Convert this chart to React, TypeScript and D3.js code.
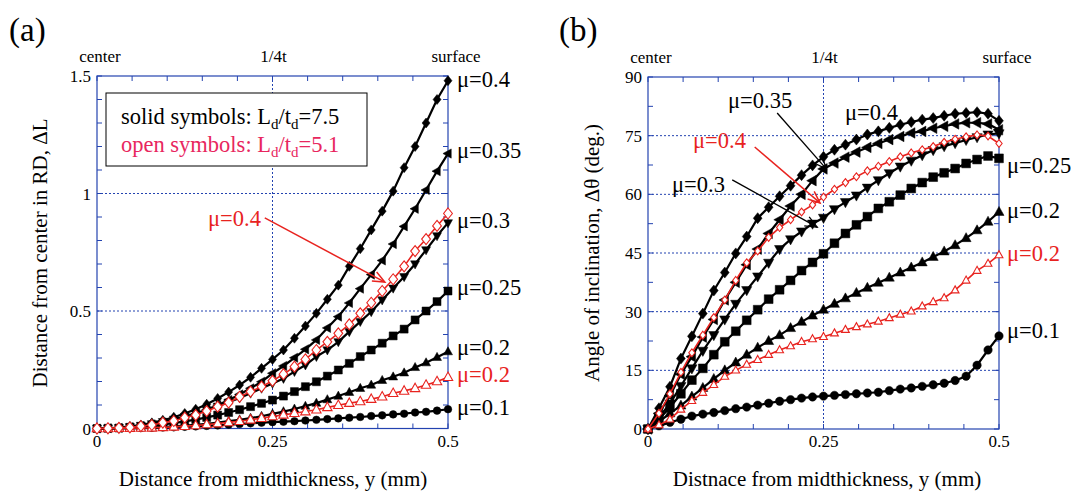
import React from 'react';
import * as d3 from 'd3';

// ---------- data ----------
const X = [0, 0.015625, 0.03125, 0.046875, 0.0625, 0.078125, 0.09375, 0.109375, 0.125,
  0.140625, 0.15625, 0.171875, 0.1875, 0.203125, 0.21875, 0.234375, 0.25,
  0.265625, 0.28125, 0.296875, 0.3125, 0.328125, 0.34375, 0.359375, 0.375,
  0.390625, 0.40625, 0.421875, 0.4375, 0.453125, 0.46875, 0.484375, 0.5];

// (a) Distance from center in RD, ΔL
const aMu04 = [0, 0.001, 0.004, 0.009, 0.015, 0.024, 0.035, 0.048, 0.064, 0.082, 0.103, 0.128, 0.155, 0.185, 0.218, 0.256, 0.294, 0.334, 0.384, 0.436, 0.49, 0.55, 0.61, 0.69, 0.765, 0.845, 0.925, 1.01, 1.11, 1.2, 1.3, 1.4, 1.48];
const aMu035 = [0, 0.001, 0.003, 0.006, 0.011, 0.018, 0.026, 0.036, 0.048, 0.063, 0.08, 0.099, 0.121, 0.145, 0.171, 0.199, 0.235, 0.266, 0.301, 0.337, 0.377, 0.428, 0.476, 0.534, 0.595, 0.655, 0.715, 0.785, 0.86, 0.935, 1.015, 1.095, 1.17];
const aMu03 = [0, 0.001, 0.003, 0.007, 0.013, 0.02, 0.029, 0.039, 0.051, 0.064, 0.079, 0.095, 0.112, 0.13, 0.15, 0.171, 0.192, 0.213, 0.242, 0.27, 0.306, 0.334, 0.369, 0.412, 0.455, 0.497, 0.547, 0.597, 0.646, 0.7, 0.76, 0.82, 0.875];
const aMu025 = [0, 0.001, 0.002, 0.005, 0.008, 0.012, 0.017, 0.023, 0.03, 0.038, 0.047, 0.057, 0.068, 0.08, 0.093, 0.107, 0.121, 0.138, 0.157, 0.178, 0.199, 0.223, 0.249, 0.277, 0.306, 0.334, 0.363, 0.394, 0.423, 0.462, 0.5, 0.54, 0.585];
const aMu02 = [0, 0, 0.001, 0.002, 0.003, 0.004, 0.006, 0.009, 0.012, 0.016, 0.02, 0.025, 0.031, 0.037, 0.044, 0.052, 0.062, 0.072, 0.083, 0.095, 0.108, 0.123, 0.138, 0.154, 0.171, 0.185, 0.205, 0.22, 0.237, 0.26, 0.28, 0.303, 0.327];
const aMu01 = [0, 0, 0.001, 0.001, 0.002, 0.003, 0.004, 0.005, 0.007, 0.009, 0.011, 0.013, 0.016, 0.019, 0.022, 0.025, 0.027, 0.029, 0.031, 0.034, 0.037, 0.04, 0.043, 0.046, 0.049, 0.053, 0.056, 0.06, 0.063, 0.068, 0.071, 0.076, 0.082];
const aOpenMu04 = [0, 0.001, 0.003, 0.005, 0.01, 0.015, 0.025, 0.032, 0.046, 0.057, 0.074, 0.093, 0.11, 0.135, 0.157, 0.178, 0.203, 0.231, 0.263, 0.294, 0.334, 0.369, 0.405, 0.443, 0.49, 0.535, 0.585, 0.635, 0.69, 0.755, 0.806, 0.862, 0.915];
const aOpenMu02 = [0, 0, 0.001, 0.001, 0.002, 0.003, 0.005, 0.007, 0.01, 0.013, 0.017, 0.021, 0.026, 0.031, 0.037, 0.044, 0.051, 0.058, 0.065, 0.072, 0.08, 0.09, 0.099, 0.108, 0.115, 0.125, 0.135, 0.15, 0.16, 0.171, 0.185, 0.2, 0.218];

// (b) Angle of inclination, Δθ (deg.)
const bMu04 = [0, 5.3, 10.8, 18, 23.7, 29.5, 35.4, 40, 44.9, 49.2, 53.9, 56.7, 59.5, 62.2, 64.9, 67.4, 69.6, 71.4, 72.7, 74, 75.3, 76.1, 77, 77.8, 78.5, 79.1, 79.5, 80.1, 80.6, 80.8, 81, 80.6, 78.8];
const bMu035 = [0, 4, 8.5, 14, 18.5, 23.5, 28, 33, 37.5, 42, 46, 50, 53.5, 57, 60, 63.5, 66.5, 68, 69.5, 70.8, 72, 73, 74, 74.8, 75.7, 76.1, 76.9, 77.4, 78, 78.3, 78.3, 78, 76.5];
const bMu03 = [0, 3, 6.5, 11, 15.5, 20, 24, 28, 32, 35.5, 39, 42.5, 46, 48.5, 50.5, 52.5, 54, 56.2, 58, 59.7, 61.7, 63.6, 65.4, 67.1, 68.6, 70, 71.3, 72.3, 73.1, 73.9, 74.6, 75.3, 75.6];
const bMu025 = [0, 2.5, 5.5, 9, 12.5, 15.5, 19, 22.3, 25, 27.8, 30.5, 33.2, 35.6, 38, 40.5, 42.6, 44.8, 47.5, 50, 52.2, 54.3, 56.4, 58.1, 59.8, 61.5, 63, 64.4, 65.5, 66.6, 67.9, 68.9, 69.8, 69.2];
const bMu02 = [0, 1.8, 4, 6, 8.3, 10.5, 12.8, 15, 17, 19, 20.8, 22.5, 24, 25.8, 27.4, 29, 30.5, 32, 33.4, 34.8, 36.1, 37.4, 38.7, 40, 41.3, 42.6, 44, 45.4, 47, 48.8, 50.8, 53, 55.5];
const bMu01 = [0, 0.8, 1.7, 2.5, 3.3, 3.8, 4.2, 4.7, 5.2, 5.6, 6.1, 6.6, 7.1, 7.5, 7.9, 8.2, 8.4, 8.6, 8.8, 9, 9.2, 9.4, 9.8, 10.2, 10.5, 10.9, 11.3, 11.7, 12.4, 13.5, 16.3, 20.2, 23.8];
const bOpenMu04 = [0, 4, 9, 14.5, 19.5, 24, 28.5, 33, 38, 42.5, 45.5, 49, 51.5, 53.5, 55.5, 57.3, 59.3, 61.3, 63, 64.5, 66, 67.2, 68.4, 69.6, 70.6, 71.4, 72.2, 73.3, 74.1, 74.7, 75.2, 74.9, 73];
const bOpenMu02 = [0, 1, 2.5, 5, 7.2, 9.3, 11.3, 13.4, 15, 16.5, 17.7, 19, 20.2, 21.2, 22.3, 23, 23.6, 24.5, 25.4, 26.1, 26.8, 27.5, 28.4, 29.3, 30.1, 31.4, 32.5, 33.5, 35.5, 38, 40.5, 42.3, 44.5];

const xTickLabels = ['0', '0.25', '0.5'];
const xTickValues = [0, 0.25, 0.5];
const aYTicks = [0, 0.5, 1, 1.5];
const aYTickLabels = ['0', '0.5', '1', '1.5'];
const bYTicks = [0, 15, 30, 45, 60, 75, 90];
const topLabels = ['center', '1/4t', 'surface'];

// ---------- style ----------
const FONT = '"Liberation Serif", "Times New Roman", "DejaVu Serif", serif';
const BLUE = '#2343b0';
const RED = '#e8231f';
const PINK = '#e8265e';

type Shape = 'diamond' | 'square' | 'triUp' | 'triDown' | 'triLeft' | 'circle';

function markerPath(shape: Shape, s: number): string {
  switch (shape) {
    case 'diamond':
      return `M0,${-s}L${s * 0.8},0L0,${s}L${-s * 0.8},0Z`;
    case 'square':
      return `M${-s},${-s}h${2 * s}v${2 * s}h${-2 * s}Z`;
    case 'triUp':
      return `M0,${-s * 1.1}L${s},${s * 0.7}L${-s},${s * 0.7}Z`;
    case 'triDown':
      return `M0,${s * 1.1}L${s},${-s * 0.7}L${-s},${-s * 0.7}Z`;
    case 'triLeft':
      return `M${-s * 1.1},0L${s * 0.7},${-s}L${s * 0.7},${s}Z`;
    default:
      return d3.symbol(d3.symbolCircle, Math.PI * s * s)() || '';
  }
}

interface Series {
  values: number[];
  shape: Shape;
  size: number;
  open?: boolean;
}

function Arrow({ x1, y1, x2, y2, color, width = 1.5 }: { x1: number; y1: number; x2: number; y2: number; color: string; width?: number }) {
  const ang = Math.atan2(y2 - y1, x2 - x1);
  const h = 13;
  const a1 = ang + Math.PI - 0.4;
  const a2 = ang + Math.PI + 0.4;
  return (
    <g stroke={color} strokeWidth={width} fill="none">
      <line x1={x1} y1={y1} x2={x2} y2={y2} />
      <path d={`M${x2 + h * Math.cos(a1)},${y2 + h * Math.sin(a1)}L${x2},${y2}L${x2 + h * Math.cos(a2)},${y2 + h * Math.sin(a2)}`} />
    </g>
  );
}

interface PanelProps {
  left: number; right: number; top: number; bottom: number;
  yMax: number; yTicks: number[]; yTickLabels: string[]; yMinorStep: number; yGrid: number[];
  solid: Series[]; open: Series[];
}

function Panel(p: PanelProps) {
  const x = d3.scaleLinear().domain([0, 0.5]).range([p.left, p.right]);
  const y = d3.scaleLinear().domain([0, p.yMax]).range([p.bottom, p.top]);
  const line = (vals: number[]) =>
    d3.line<number>().x((_, i) => x(X[i])).y((v) => y(v))(vals) || '';
  const xMinor = d3.range(0, 0.5001, 0.05);
  const yMinor = d3.range(0, p.yMax + 1e-6, p.yMinorStep);
  const tl = 5;

  const drawSeries = (s: Series, key: string) => {
    const color = s.open ? RED : '#000';
    return (
      <g key={key}>
        <path d={line(s.values)} fill="none" stroke={color} strokeWidth={s.open ? 1.6 : 2.2} />
        {s.values.map((v, i) => (
          <path
            key={i}
            d={markerPath(s.shape, s.size)}
            transform={`translate(${x(X[i])},${y(v)})`}
            fill={s.open ? '#fff' : '#000'}
            stroke={color}
            strokeWidth={s.open ? 1.1 : 0.5}
          />
        ))}
      </g>
    );
  };

  return (
    <g>
      <g stroke={BLUE} strokeWidth={1} strokeDasharray="2,2">
        <line x1={x(0.25)} x2={x(0.25)} y1={p.top} y2={p.bottom} />
        {p.yGrid.map((g) => (
          <line key={g} x1={p.left} x2={p.right} y1={y(g)} y2={y(g)} />
        ))}
      </g>
      <g stroke={BLUE} strokeWidth={1}>
        {xMinor.map((t, i) => (
          <g key={'xt' + i}>
            <line x1={x(t)} x2={x(t)} y1={p.bottom} y2={p.bottom - tl} />
            <line x1={x(t)} x2={x(t)} y1={p.top} y2={p.top + tl} />
          </g>
        ))}
        {yMinor.map((t, i) => (
          <g key={'yt' + i}>
            <line x1={p.left} x2={p.left + tl} y1={y(t)} y2={y(t)} />
            <line x1={p.right} x2={p.right - tl} y1={y(t)} y2={y(t)} />
          </g>
        ))}
      </g>
      <rect x={p.left} y={p.top} width={p.right - p.left} height={p.bottom - p.top} fill="none" stroke={BLUE} strokeWidth={1.2} />
      <g style={{ fontFamily: FONT, fontSize: 17 }} fill="#000">
        {xTickValues.map((t, i) => (
          <text key={'xl' + i} x={x(t)} y={p.bottom + 18} textAnchor="middle">{xTickLabels[i]}</text>
        ))}
        {p.yTicks.map((t, i) => (
          <text key={'yl' + i} x={p.left - 6} y={y(t) + 6} textAnchor="end">{p.yTickLabels[i]}</text>
        ))}
        <text x={x(0) + 3} y={p.top - 14} textAnchor="middle">{topLabels[0]}</text>
        <text x={x(0.25) + 1} y={p.top - 14} textAnchor="middle">{topLabels[1]}</text>
        <text x={x(0.5) + 8} y={p.top - 14} textAnchor="middle">{topLabels[2]}</text>
      </g>
      {p.solid.map((s, i) => drawSeries(s, 's' + i))}
      {p.open.map((s, i) => drawSeries(s, 'o' + i))}
    </g>
  );
}

export default function App() {
  const aX = d3.scaleLinear().domain([0, 0.5]).range([97, 448]);
  const aY = d3.scaleLinear().domain([0, 1.5]).range([428.5, 76]);
  const bX = d3.scaleLinear().domain([0, 0.5]).range([648, 999]);
  const bY = d3.scaleLinear().domain([0, 90]).range([429, 77]);
  const lab = { fontFamily: FONT, fontSize: 22.5 };
  const title = { fontFamily: FONT, fontSize: 21 };

  return (
    <svg width={1076} height={491} style={{ position: 'absolute', left: 0, top: 0, background: '#fff', fontFamily: FONT }}>
      <rect width={1076} height={491} fill="#fff" />
      <text x={9} y={41} style={{ fontFamily: FONT, fontSize: 33 }}>(a)</text>
      <Panel
        left={97} right={448} top={76} bottom={428.5}
        yMax={1.5} yTicks={aYTicks} yTickLabels={aYTickLabels} yMinorStep={0.1} yGrid={[0.5, 1]}
        solid={[
          { values: aMu01, shape: 'circle', size: 3.8 },
          { values: aMu02, shape: 'triUp', size: 4.5 },
          { values: aMu025, shape: 'square', size: 4 },
          { values: aMu03, shape: 'triDown', size: 4.5 },
          { values: aMu035, shape: 'triLeft', size: 4.6 },
          { values: aMu04, shape: 'diamond', size: 5 },
        ]}
        open={[
          { values: aOpenMu02, shape: 'triUp', size: 4.7, open: true },
          { values: aOpenMu04, shape: 'diamond', size: 5.5, open: true },
        ]}
      />
      <rect x={106} y={93} width={261} height={73} fill="#fff" stroke="#000" strokeWidth={1} />
      <text x={121} y={124} style={lab} fill="#000">
        solid symbols: L<tspan style={{ fontSize: 15 }} dy={5}>d</tspan><tspan dy={-5}>/t</tspan><tspan style={{ fontSize: 15 }} dy={5}>d</tspan><tspan dy={-5}>=7.5</tspan>
      </text>
      <text x={121} y={152} style={lab} fill={PINK}>
        open symbols: L<tspan style={{ fontSize: 15 }} dy={5}>d</tspan><tspan dy={-5}>/t</tspan><tspan style={{ fontSize: 15 }} dy={5}>d</tspan><tspan dy={-5}>=5.1</tspan>
      </text>
      <Arrow x1={aX(0.239)} y1={aY(0.896)} x2={aX(0.41)} y2={aY(0.623)} color={RED} />
      <text x={208} y={226} style={lab} fill={RED}>μ=0.4</text>
      <g style={lab} fill="#000">
        <text x={457} y={87}>μ=0.4</text>
        <text x={457} y={158}>μ=0.35</text>
        <text x={457} y={228}>μ=0.3</text>
        <text x={457} y={295}>μ=0.25</text>
        <text x={457} y={355}>μ=0.2</text>
        <text x={457} y={382} fill={RED}>μ=0.2</text>
        <text x={457} y={415}>μ=0.1</text>
      </g>
      <text transform="translate(47,253) rotate(-90)" textAnchor="middle" style={title}>Distance from center in RD, ΔL</text>
      <text x={273} y={486} textAnchor="middle" style={title}>Distance from midthickness, y (mm)</text>

      <text x={559} y={41} style={{ fontFamily: FONT, fontSize: 33 }}>(b)</text>
      <Panel
        left={648} right={999} top={77} bottom={429}
        yMax={90} yTicks={bYTicks} yTickLabels={bYTicks.map(String)} yMinorStep={7.5} yGrid={[15, 30, 45, 60, 75]}
        solid={[
          { values: bMu01, shape: 'circle', size: 4.2 },
          { values: bMu02, shape: 'triUp', size: 5 },
          { values: bMu025, shape: 'square', size: 4.4 },
          { values: bMu03, shape: 'triDown', size: 5.1 },
          { values: bMu035, shape: 'triLeft', size: 5.3 },
          { values: bMu04, shape: 'diamond', size: 5.5 },
        ]}
        open={[
          { values: bOpenMu02, shape: 'triUp', size: 3.9, open: true },
          { values: bOpenMu04, shape: 'diamond', size: 3.9, open: true },
        ]}
      />
      <Arrow x1={bX(0.184)} y1={bY(80.8)} x2={bX(0.254)} y2={bY(66.5)} color="#000" width={1.3} />
      <Arrow x1={bX(0.152)} y1={bY(72.1)} x2={bX(0.245)} y2={bY(57.8)} color={RED} width={1.5} />
      <Arrow x1={bX(0.12)} y1={bY(63.7)} x2={bX(0.241)} y2={bY(51.6)} color="#000" width={1.3} />
      <g style={lab} fill="#000">
        <text x={728} y={108}>μ=0.35</text>
        <text x={845} y={120}>μ=0.4</text>
        <text x={693} y={148} fill={RED}>μ=0.4</text>
        <text x={672} y={192}>μ=0.3</text>
        <text x={1007} y={173}>μ=0.25</text>
        <text x={1007} y={218}>μ=0.2</text>
        <text x={1007} y={261} fill={RED}>μ=0.2</text>
        <text x={1007} y={338}>μ=0.1</text>
      </g>
      <text transform="translate(599,253) rotate(-90)" textAnchor="middle" style={title}>Angle of inclination, Δθ (deg.)</text>
      <text x={827} y={486} textAnchor="middle" style={title}>Distnace from midthickness, y (mm)</text>
    </svg>
  );
}
